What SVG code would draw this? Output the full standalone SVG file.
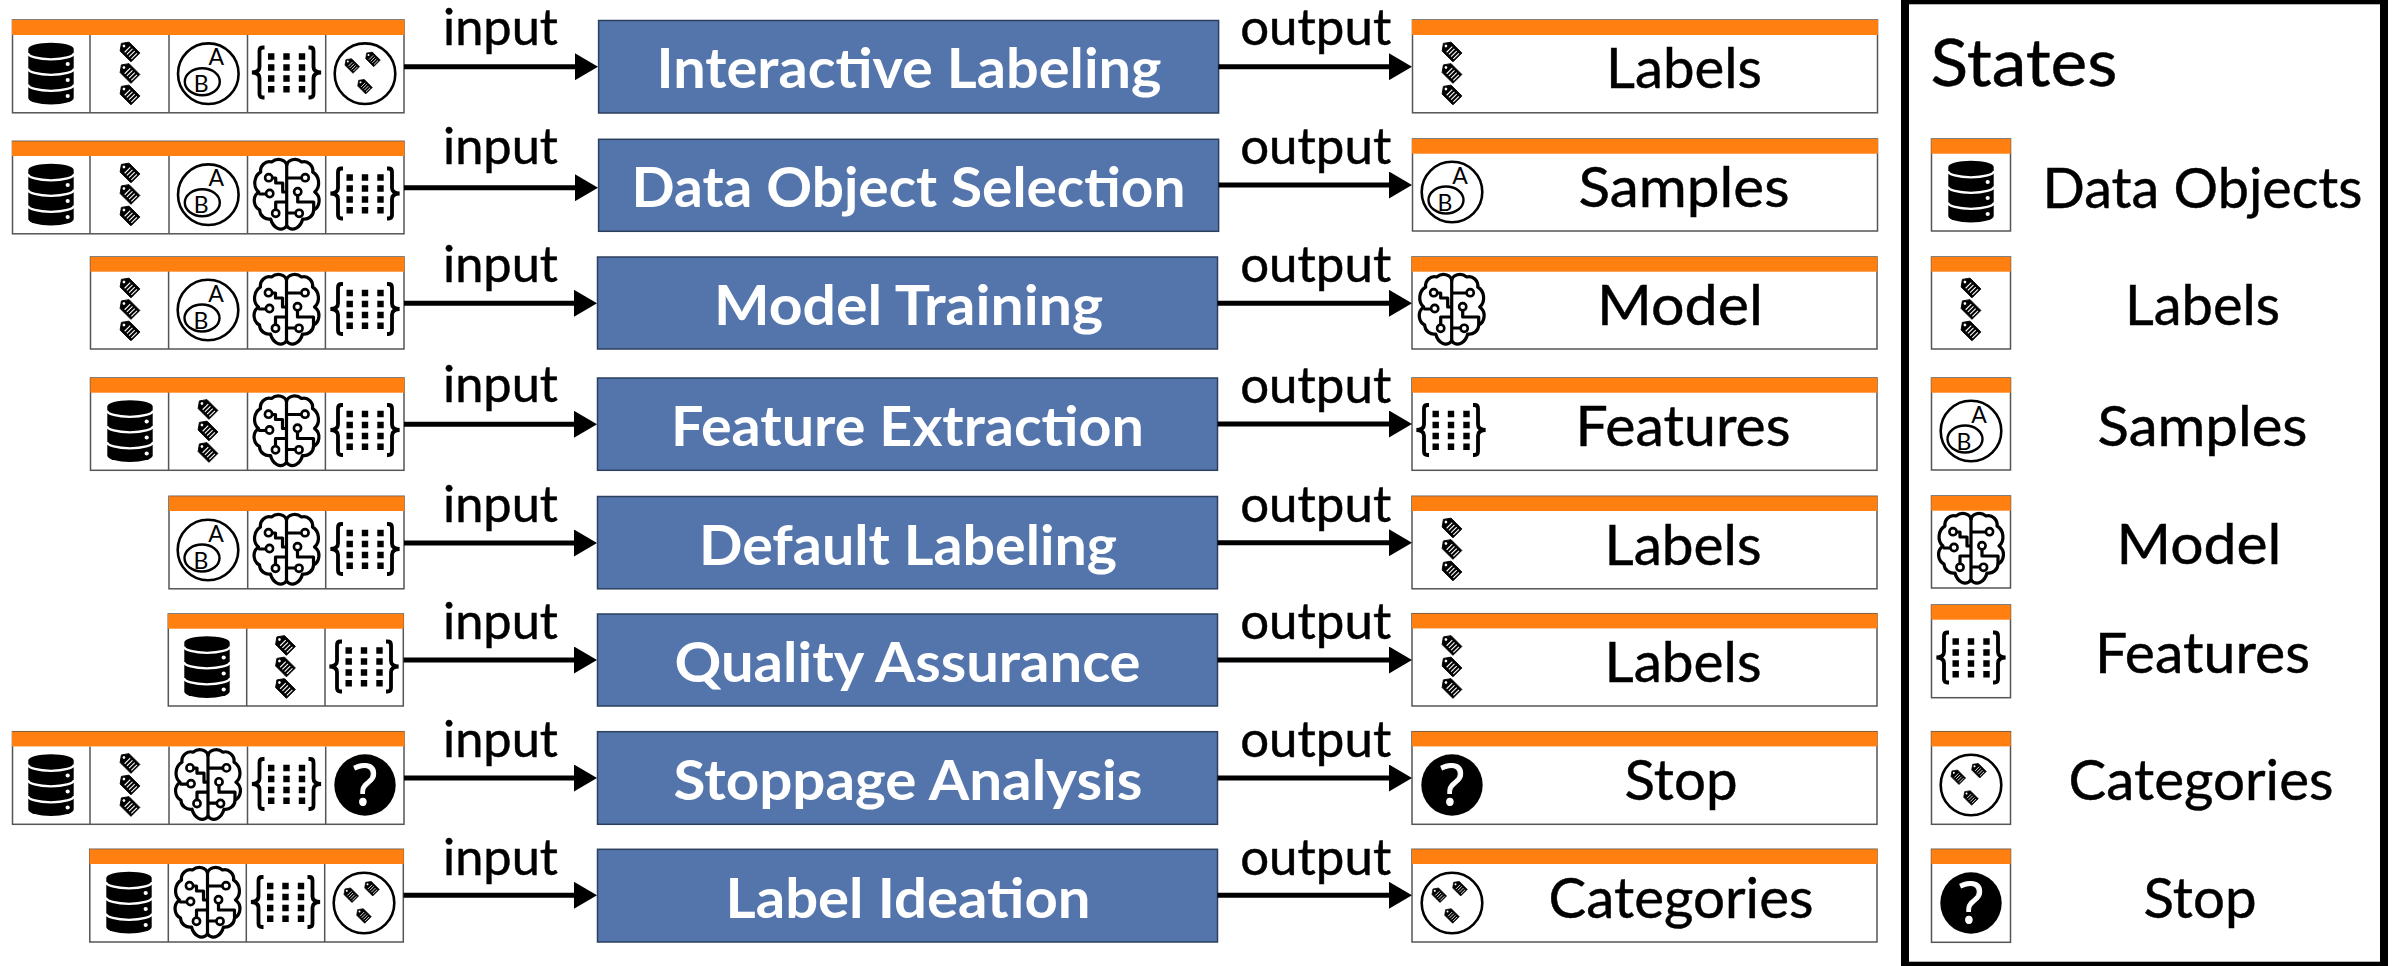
<svg xmlns="http://www.w3.org/2000/svg" width="2394" height="966" viewBox="0 0 2394 966">
<style>
text{font-family:"Lato","Carlito","Open Sans",sans-serif;fill:#000;text-anchor:middle}
.big{font-size:55.5px;stroke:#000;stroke-width:.45}
.io{font-size:49.5px;stroke:#000;stroke-width:.45}
.proc{font-size:54.5px;font-weight:700;fill:#fff}
.ltr{font-size:23px}
.box{fill:#fff;stroke:#555;stroke-width:1.5}
.bar{fill:#ff7f10}
.sep{stroke:#555;stroke-width:1.5}
.blue{fill:#5475ab;stroke:#2d3f5e;stroke-width:1.5}
.arrow{stroke:#000;stroke-width:5;fill:none;marker-end:url(#head)}
.ln{fill:none;stroke:#000;stroke-width:3.2;stroke-linejoin:round;stroke-linecap:round}
</style>
<defs>
<marker id="head" markerUnits="userSpaceOnUse" markerWidth="23" markerHeight="27" refX="0" refY="13.5" orient="auto"><path d="M0,0L23,13.5L0,27z" fill="#000"/></marker>
<g id="db">
<path d="M-22.7,-25A22.7,6.3 0 0 1 22.7,-25V24A22.7,6.5 0 0 1 -22.7,24Z" fill="#000"/>
<g fill="none" stroke="#fff" stroke-width="2.3"><path d="M-23,-21A23,6.3 0 0 0 23,-21"/><path d="M-23,-5.5A23,6.3 0 0 0 23,-5.5"/><path d="M-23,10.5A23,6.3 0 0 0 23,10.5"/></g>
<g fill="#fff"><circle cx="16.7" cy="-10" r="2.1"/><circle cx="16.7" cy="6" r="2.1"/><circle cx="16.7" cy="22" r="2.1"/></g>
</g>
<g id="tag">
<g transform="translate(-1.6,-1.6) rotate(45) scale(.9)">
<path d="M-11,0L-6,-7H11V7H-6Z" fill="#000" stroke="#000" stroke-width="1" stroke-linejoin="round"/>
<circle cx="-7" cy="0" r="1.5" fill="#fff"/>
<path d="M-1.5,-4.4V4.4M2,-4.4V4.4M5.5,-4.4V4.4M9,-4.4V4.4" stroke="#fff" stroke-width="1.2" fill="none"/>
</g>
</g>
<g id="tags"><use href="#tag" x="0" y="-22"/><use href="#tag" x="0" y="-0.5"/><use href="#tag" x="0" y="21"/></g>
<g id="venn">
<circle cx="0" cy="0" r="30.3" fill="none" stroke="#000" stroke-width="2.6"/>
<ellipse cx="-6" cy="8" rx="17.5" ry="13.5" fill="none" stroke="#000" stroke-width="2.4"/>
<text class="ltr" x="8" y="-8.5">A</text>
<text class="ltr" x="-7" y="18.5">B</text>
</g>
<path id="brace" d="M-22,-25.5H-23.5Q-27,-25.5 -27,-22V-6Q-27,-1 -34.5,-0.5Q-27,0 -27,5V21Q-27,24.5 -23.5,24.5H-22" fill="none" stroke="#000" stroke-width="3.8"/>
<g id="feat">
<use href="#brace"/><use href="#brace" transform="scale(-1,1)"/>
<path d="M-18.5,-19.7h6.4v6.4h-6.4zM-3.2,-19.7h6.4v6.4h-6.4zM12.3,-19.7h6.4v6.4h-6.4zM-18.5,-8.7h6.4v6.4h-6.4zM-3.2,-8.7h6.4v6.4h-6.4zM12.3,-8.7h6.4v6.4h-6.4zM-18.5,2.3h6.4v6.4h-6.4zM-3.2,2.3h6.4v6.4h-6.4zM12.3,2.3h6.4v6.4h-6.4zM-18.5,13h6.4v6.4h-6.4zM-3.2,13h6.4v6.4h-6.4zM12.3,13h6.4v6.4h-6.4z" fill="#000"/>
</g>
<g id="cat">
<circle cx="0" cy="0" r="30.3" fill="none" stroke="#000" stroke-width="2.6"/>
<g transform="translate(-12.7,-7.7) scale(.74)"><use href="#tag"/></g>
<g transform="translate(8,-14.3) scale(.74)"><use href="#tag"/></g>
<g transform="translate(0,13) scale(.74)"><use href="#tag"/></g>
</g>
<g id="stop">
<circle cx="0" cy="0" r="30.7" fill="#000"/>
<text x="0" y="20" style="font-family:'Open Sans',sans-serif;font-size:56px;fill:#fff;stroke:#fff;stroke-width:1">?</text>
</g>
<g id="brain">
<path id="lobe" class="ln" d="M0,-30C1,-35 9,-38 15,-33C21,-35 27,-29 26,-23C33,-19 34,-8 28,-3C35,2 33,12 27,15C27,21 21,25 16,24C14,32 6,38 0,31"/>
<use href="#lobe" transform="scale(-1,1)"/>
<path class="ln" d="M0,-31V31M0,-17H15M11,0V7H27V14M0,18H9M-15,-17H-11V-12H-4V-3H0M-27,-1H-20.5M-11,15V7H0"/>
<g fill="#fff" stroke="#000" stroke-width="2.6"><circle cx="18.5" cy="-17.3" r="3.6"/><circle cx="11" cy="-3.3" r="3.6"/><circle cx="12.5" cy="18.3" r="3.6"/><circle cx="-18" cy="-17.3" r="3.6"/><circle cx="-17" cy="-1.5" r="3.6"/><circle cx="-11" cy="18.3" r="3.6"/></g>
</g>
</defs>
<rect width="2394" height="966" fill="#fff"/>

<g id="inputs">
<g id="input-1"><rect class="box" x="12.5" y="20" width="391.5" height="92.8"/><rect class="bar" x="12" y="20" width="392.5" height="15"/><path class="sep" d="M90,35V113M169,35V113M247.5,35V113M325.7,35V113"/><use href="#db" x="51" y="74"/><use href="#tags" x="130" y="74"/><use href="#venn" x="208.3" y="73.7"/><use href="#feat" x="286.5" y="73"/><use href="#cat" x="365" y="73.7"/></g>
<g id="input-2"><rect class="box" x="12.5" y="141.3" width="391.5" height="92.5"/><rect class="bar" x="12" y="141.3" width="392.5" height="14.7"/><path class="sep" d="M90,156V234M169,156V234M247.5,156V234M325.7,156V234"/><use href="#db" x="51" y="195"/><use href="#tags" x="130" y="195"/><use href="#venn" x="208.3" y="194.7"/><use href="#brain" x="286.7" y="195"/><use href="#feat" x="365" y="194"/></g>
<g id="input-3"><rect class="box" x="90.5" y="257" width="313.5" height="92"/><rect class="bar" x="90.4" y="257" width="314" height="14.7"/><path class="sep" d="M168.6,271.5V349M247.5,271.5V349M325.4,271.5V349"/><use href="#tags" x="130" y="310"/><use href="#venn" x="208" y="310"/><use href="#brain" x="286.5" y="310"/><use href="#feat" x="365" y="309.5"/></g>
<g id="input-4"><rect class="box" x="90.5" y="378" width="313.5" height="92.3"/><rect class="bar" x="90.4" y="378" width="314" height="14.7"/><path class="sep" d="M168.6,392.5V470M247.5,392.5V470M325.4,392.5V470"/><use href="#db" x="130" y="431.5"/><use href="#tags" x="208" y="431.5"/><use href="#brain" x="286.5" y="431.5"/><use href="#feat" x="365" y="430.5"/></g>
<g id="input-5"><rect class="box" x="169" y="496.3" width="235" height="92.5"/><rect class="bar" x="169" y="496.3" width="235.4" height="14.7"/><path class="sep" d="M247.7,511V589M325.7,511V589"/><use href="#venn" x="208" y="550"/><use href="#brain" x="286.5" y="550"/><use href="#feat" x="365" y="549.5"/></g>
<g id="input-6"><rect class="box" x="168.3" y="614" width="235" height="92"/><rect class="bar" x="168" y="614" width="235.6" height="14.7"/><path class="sep" d="M246.7,628.5V706M325,628.5V706"/><use href="#db" x="207" y="667.5"/><use href="#tags" x="285.5" y="667.5"/><use href="#feat" x="364" y="667"/></g>
<g id="input-7"><rect class="box" x="12.5" y="731.7" width="391.5" height="92.6"/><rect class="bar" x="12" y="731.7" width="392.5" height="14.7"/><path class="sep" d="M90,746.5V824.3M169,746.5V824.3M247.5,746.5V824.3M325.7,746.5V824.3"/><use href="#db" x="51" y="785.5"/><use href="#tags" x="130" y="785.5"/><use href="#brain" x="208" y="785.2"/><use href="#feat" x="286.5" y="784.5"/><use href="#stop" x="365" y="785"/></g>
<g id="input-8"><rect class="box" x="89.8" y="849.3" width="313.5" height="92.7"/><rect class="bar" x="89.5" y="849.3" width="314.2" height="14.7"/><path class="sep" d="M168.3,864V942M246.3,864V942M324.7,864V942"/><use href="#db" x="129" y="903"/><use href="#brain" x="207.5" y="903"/><use href="#feat" x="285.5" y="902.5"/><use href="#cat" x="364" y="903"/></g>
</g>

<g id="processes">
<g id="process-1"><rect class="blue" x="598.6" y="20.5" width="620" height="92.5"/><text class="proc" x="909" y="88.3" textLength="505" lengthAdjust="spacingAndGlyphs">Interactive Labeling</text></g>
<g id="process-2"><rect class="blue" x="598.6" y="139.3" width="620" height="92"/><text class="proc" x="908.5" y="207" textLength="554" lengthAdjust="spacingAndGlyphs">Data Object Selection</text></g>
<g id="process-3"><rect class="blue" x="597.5" y="257" width="620" height="92"/><text class="proc" x="908.5" y="325" textLength="389" lengthAdjust="spacingAndGlyphs">Model Training</text></g>
<g id="process-4"><rect class="blue" x="597.5" y="378" width="620" height="92.3"/><text class="proc" x="907.5" y="446" textLength="473" lengthAdjust="spacingAndGlyphs">Feature Extraction</text></g>
<g id="process-5"><rect class="blue" x="597.5" y="496.5" width="620" height="92.3"/><text class="proc" x="908" y="564.5" textLength="418" lengthAdjust="spacingAndGlyphs">Default Labeling</text></g>
<g id="process-6"><rect class="blue" x="597.5" y="614" width="620" height="92"/><text class="proc" x="907.5" y="682" textLength="466" lengthAdjust="spacingAndGlyphs">Quality Assurance</text></g>
<g id="process-7"><rect class="blue" x="597.5" y="731.7" width="620" height="92.6"/><text class="proc" x="908" y="800" textLength="469" lengthAdjust="spacingAndGlyphs">Stoppage Analysis</text></g>
<g id="process-8"><rect class="blue" x="597.5" y="849.3" width="620" height="92.7"/><text class="proc" x="908" y="917.5" textLength="365" lengthAdjust="spacingAndGlyphs">Label Ideation</text></g>
</g>

<g id="outputs">
<g id="output-1"><rect class="box" x="1412.5" y="20" width="465" height="92.8"/><rect class="bar" x="1412" y="20" width="466" height="15"/><use href="#tags" x="1452" y="74"/><text class="big" x="1684" y="88.3" textLength="156" lengthAdjust="spacingAndGlyphs">Labels</text></g>
<g id="output-2"><rect class="box" x="1412.5" y="139" width="465" height="92"/><rect class="bar" x="1412" y="139" width="466" height="14.7"/><use href="#venn" x="1452" y="192"/><text class="big" x="1684" y="207" textLength="211" lengthAdjust="spacingAndGlyphs">Samples</text></g>
<g id="output-3"><rect class="box" x="1412" y="257" width="465" height="92"/><rect class="bar" x="1411.5" y="257" width="466" height="14.7"/><use href="#brain" x="1451.7" y="310"/><text class="big" x="1680" y="325" textLength="166" lengthAdjust="spacingAndGlyphs">Model</text></g>
<g id="output-4"><rect class="box" x="1412" y="378" width="465" height="92.3"/><rect class="bar" x="1412" y="378" width="465.5" height="14.7"/><use href="#feat" x="1451" y="430.5"/><text class="big" x="1683" y="446" textLength="215" lengthAdjust="spacingAndGlyphs">Features</text></g>
<g id="output-5"><rect class="box" x="1412" y="496.3" width="465" height="92.5"/><rect class="bar" x="1412" y="496.3" width="465.5" height="14.7"/><use href="#tags" x="1452" y="550"/><text class="big" x="1683" y="564.5" textLength="157" lengthAdjust="spacingAndGlyphs">Labels</text></g>
<g id="output-6"><rect class="box" x="1412" y="613.7" width="465" height="92.3"/><rect class="bar" x="1412" y="613.7" width="465.5" height="14.7"/><use href="#tags" x="1452" y="667.5"/><text class="big" x="1683" y="682" textLength="157" lengthAdjust="spacingAndGlyphs">Labels</text></g>
<g id="output-7"><rect class="box" x="1412" y="731.7" width="465" height="92.6"/><rect class="bar" x="1412" y="731.7" width="465.5" height="14.7"/><use href="#stop" x="1452" y="785"/><text class="big" x="1681" y="800" textLength="113" lengthAdjust="spacingAndGlyphs">Stop</text></g>
<g id="output-8"><rect class="box" x="1412" y="849.3" width="465" height="92.7"/><rect class="bar" x="1412" y="849.3" width="465.5" height="14.7"/><use href="#cat" x="1452" y="903"/><text class="big" x="1681" y="917.5" textLength="265" lengthAdjust="spacingAndGlyphs">Categories</text></g>
</g>

<g id="connectors">
<path class="arrow" d="M404,66.7H575"/><path class="arrow" d="M1218.5,66.7H1389"/>
<path class="arrow" d="M404,187.7H575"/><path class="arrow" d="M1218.5,185H1389"/>
<path class="arrow" d="M404,303.3H574"/><path class="arrow" d="M1217.5,303.3H1389"/>
<path class="arrow" d="M404,424.3H574"/><path class="arrow" d="M1217.5,424H1389"/>
<path class="arrow" d="M404,543H574"/><path class="arrow" d="M1217.5,542.7H1389"/>
<path class="arrow" d="M403.5,660H574"/><path class="arrow" d="M1217.5,660H1389"/>
<path class="arrow" d="M404,778H574"/><path class="arrow" d="M1217.5,778H1389"/>
<path class="arrow" d="M403.5,895.3H574"/><path class="arrow" d="M1217.5,895.3H1389"/>
<g>
<text class="io" x="500.5" y="45" textLength="115" lengthAdjust="spacingAndGlyphs">input</text><text class="io" x="1315.7" y="45" textLength="151" lengthAdjust="spacingAndGlyphs">output</text>
<text class="io" x="500.5" y="164" textLength="115" lengthAdjust="spacingAndGlyphs">input</text><text class="io" x="1315.7" y="163.5" textLength="151" lengthAdjust="spacingAndGlyphs">output</text>
<text class="io" x="500.5" y="282" textLength="115" lengthAdjust="spacingAndGlyphs">input</text><text class="io" x="1315.7" y="281.7" textLength="151" lengthAdjust="spacingAndGlyphs">output</text>
<text class="io" x="500.5" y="402.3" textLength="115" lengthAdjust="spacingAndGlyphs">input</text><text class="io" x="1315.7" y="402.5" textLength="151" lengthAdjust="spacingAndGlyphs">output</text>
<text class="io" x="500.5" y="521.7" textLength="115" lengthAdjust="spacingAndGlyphs">input</text><text class="io" x="1315.7" y="521.7" textLength="151" lengthAdjust="spacingAndGlyphs">output</text>
<text class="io" x="500.5" y="639" textLength="115" lengthAdjust="spacingAndGlyphs">input</text><text class="io" x="1315.7" y="638.5" textLength="151" lengthAdjust="spacingAndGlyphs">output</text>
<text class="io" x="500.5" y="757" textLength="115" lengthAdjust="spacingAndGlyphs">input</text><text class="io" x="1315.7" y="757" textLength="151" lengthAdjust="spacingAndGlyphs">output</text>
<text class="io" x="500.5" y="875" textLength="115" lengthAdjust="spacingAndGlyphs">input</text><text class="io" x="1315.7" y="875" textLength="151" lengthAdjust="spacingAndGlyphs">output</text>
</g>
</g>

<g id="legend">
<rect x="1905" y="0.3" width="479" height="965.4" fill="#fff" stroke="#000" stroke-width="8"/>
<text x="2024" y="86" style="font-size:66px;stroke:#000;stroke-width:.45" textLength="187" lengthAdjust="spacingAndGlyphs">States</text>
<g id="legend-data"><rect class="box" x="1931.5" y="139" width="79" height="92"/><rect class="bar" x="1931.3" y="139" width="79.4" height="14.7"/><use href="#db" x="1971" y="192"/><text class="big" x="2202.5" y="208" textLength="320" lengthAdjust="spacingAndGlyphs">Data Objects</text></g>
<g id="legend-labels"><rect class="box" x="1931.5" y="257" width="79" height="92"/><rect class="bar" x="1931.3" y="257" width="79.4" height="14.7"/><use href="#tags" x="1971" y="310"/><text class="big" x="2202.5" y="325" textLength="155" lengthAdjust="spacingAndGlyphs">Labels</text></g>
<g id="legend-samples"><rect class="box" x="1931.5" y="378" width="79" height="92"/><rect class="bar" x="1931.3" y="378" width="79.4" height="14.7"/><use href="#venn" x="1971" y="431"/><text class="big" x="2202.5" y="446" textLength="210" lengthAdjust="spacingAndGlyphs">Samples</text></g>
<g id="legend-model"><rect class="box" x="1931.5" y="496" width="79" height="92"/><rect class="bar" x="1931.3" y="496" width="79.4" height="14.7"/><use href="#brain" x="1971" y="549"/><text class="big" x="2199" y="564" textLength="165" lengthAdjust="spacingAndGlyphs">Model</text></g>
<g id="legend-features"><rect class="box" x="1931.5" y="605" width="79" height="92.7"/><rect class="bar" x="1931.3" y="605" width="79.4" height="14.7"/><use href="#feat" x="1971" y="658"/><text class="big" x="2202.5" y="673.3" textLength="215" lengthAdjust="spacingAndGlyphs">Features</text></g>
<g id="legend-categories"><rect class="box" x="1931.5" y="731.7" width="79" height="92.6"/><rect class="bar" x="1931.3" y="731.7" width="79.4" height="14.7"/><use href="#cat" x="1971" y="785"/><text class="big" x="2201" y="800" textLength="265" lengthAdjust="spacingAndGlyphs">Categories</text></g>
<g id="legend-stop"><rect class="box" x="1931.5" y="849.3" width="79" height="93"/><rect class="bar" x="1931.3" y="849.3" width="79.4" height="14.7"/><use href="#stop" x="1971" y="903"/><text class="big" x="2200" y="917.7" textLength="113" lengthAdjust="spacingAndGlyphs">Stop</text></g>
</g>
</svg>
